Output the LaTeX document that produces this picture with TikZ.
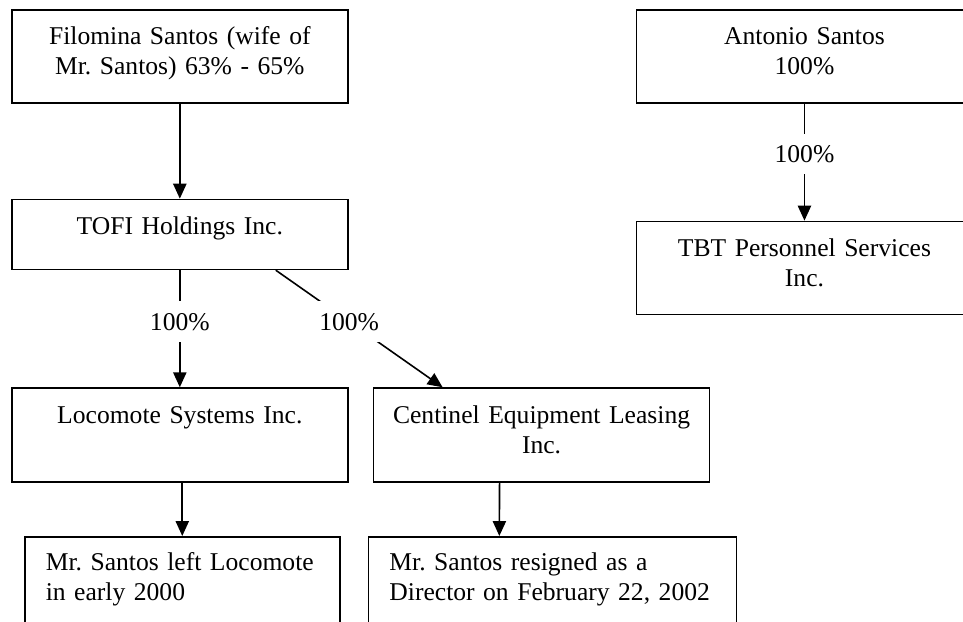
\documentclass[tikz,border=0pt]{standalone}
\usepackage{fontspec}
\setmainfont{Liberation Serif}
\usetikzlibrary{arrows.meta, positioning}

\begin{document}
\frenchspacing
\begin{tikzpicture}[
        x=0.469pt, y=-0.469pt,
        every node/.style={font=\fontsize{12}{14.07}\selectfont},
        box/.style={rectangle, draw, line width=0.75pt, text width=157.6pt, inner xsep=0pt, inner ysep=0pt, align=center, text height=16.4pt, text depth=27.2pt},
        note/.style={box, text width=128pt, inner xsep=9.85pt, align=left, text depth=30pt},
        pct/.style={fill=white, inner xsep=2pt, inner ysep=5.5pt, pos=.44},
        arr/.style={-{Triangle[length=7pt,width=6.2pt]}, line width=0.75pt}
    ]
        \useasboundingbox (0,0) rectangle (963,621);
        \clip (0,0) rectangle (963,621);
        \node[box, anchor=north west] (fil) at (11,9) {Filomina Santos (wife of\\Mr. Santos) 63\% - 65\%};
        \node[box, right=134.6pt of fil] (ant) {Antonio Santos\\100\%};
        \node[box, below=44.6pt of fil, text depth=16.4pt] (tofi) {TOFI Holdings Inc.};
        \node[box, below=54.9pt of ant] (tbt) {TBT Personnel Services\\Inc.};
        \node[box, below=54.9pt of tofi, text depth=27.7pt] (loco) {Locomote Systems Inc.};
        \node[box, right=11.3pt of loco, text depth=27.7pt] (cent) {Centinel Equipment Leasing\\Inc.};
        \node[note, below right=24.9pt and 6.1pt of loco.south west, text height=15.9pt] (left) {Mr. Santos left Locomote\\in early 2000};
        \node[note, text width=152.9pt, right=12.7pt of left, text height=15.9pt] (res) {Mr. Santos resigned as a\\Director on February 22, 2002};

        \draw[arr] (fil) -- (tofi);
        \draw[arr] (ant) -- node[pct, pos=.43]{100\%} (tbt);
        \draw[arr] (tofi) -- node[pct]{100\%} (loco);
        \draw[arr] ([xshift=45pt]tofi.south) -- node[pct]{100\%} ([xshift=-46.4pt]cent.north);
        \draw[arr] (loco.south -| left.north) -- (left.north);
        \draw[arr] ([xshift=-19.7pt]cent.south) -- ([xshift=-24.9pt]res.north);
    \end{tikzpicture}
\end{document}
